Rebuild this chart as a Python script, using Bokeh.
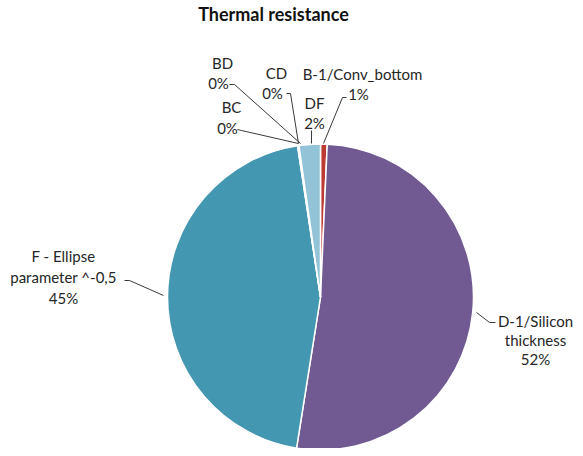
import math
from bokeh.plotting import figure
from bokeh.models import Range1d, ColumnDataSource
from bokeh.core.properties import value
from bokeh.embed import file_html
from bokeh.resources import INLINE

# ---- data (clockwise from 12 o'clock) ----
categories = ["B-1/Conv_bottom", "D-1/Silicon thickness", "F - Ellipse parameter ^-0,5",
              "BC", "BD", "CD", "DF"]
shares = [0.7, 51.8, 45.1, 0.05, 0.05, 0.05, 2.25]
colors = ["#BE3B33", "#715A91", "#4397B0", "#4F81BD", "#9BBB59", "#F79646", "#93C3D6"]
label_lines = [["B-1/Conv_bottom"], ["D-1/Silicon", "thickness"], ["F - Ellipse", "parameter ^-0,5"],
               ["BC"], ["BD"], ["CD"], ["DF"]]
title_text = "Thermal resistance"

W, H = 575, 448
def fx(x):
    return x
def fy(y):
    return H - y

# ---- layout (image pixel coords) ----
CX, CY, R = 320, 296.5, 153
label_pos = [
    [(362, 73), (358, 93)],
    [(535, 320), (535, 339), (535, 358)],
    [(63, 255), (63, 276), (63, 297)],
    [(231, 106), (227, 127)],
    [(222, 62), (218, 82)],
    [(276, 72), (272, 92)],
    [(314, 102), (314, 122)],
]
leaders = [
    [(346, 97), (342, 97), (323, 143)],
    [(476, 312), (489, 322), (495, 322)],
    [(124, 280), (129, 280), (163, 295)],
    [(237, 129), (241, 130), (298, 143)],
    [(229, 84), (234, 84), (300, 143)],
    [(286, 93), (290, 93), (298, 143)],
    [(311, 130), (311, 143)],
]

p = figure(width=W, height=H, output_backend="svg", toolbar_location=None,
           x_range=Range1d(0, W), y_range=Range1d(0, H), min_border=0,
           x_axis_location=None, y_axis_location=None)
p.grid.visible = False
p.outline_line_color = None
p.background_fill_color = "white"
p.border_fill_color = "white"

total = sum(shares)
starts, ends = [], []
cum = 0.0
for v in shares:
    a = cum / total
    cum += v
    b = cum / total
    starts.append(math.pi / 2 - 2 * math.pi * b)
    ends.append(math.pi / 2 - 2 * math.pi * a)

src = ColumnDataSource(dict(x=[fx(CX)] * len(shares), y=[fy(CY)] * len(shares),
                            start=starts, end=ends, color=colors))
p.wedge(x="x", y="y", radius=R, radius_units="screen", start_angle="start", end_angle="end",
        fill_color="color", line_color="white", line_width=1.5, source=src)

# leader lines
for pts in leaders:
    p.line([fx(a) for a, _ in pts], [fy(b) for _, b in pts], line_color="#3a3a3a", line_width=1)

# labels
tx, ty, tt = [], [], []
for lines, pos, v in zip(label_lines, label_pos, shares):
    pct = f"{round(v / total * 100)}%"
    texts = lines + [pct]
    for t, (x, y) in zip(texts, pos):
        tx.append(fx(x)); ty.append(fy(y)); tt.append(t)
p.text(x=tx, y=ty, text=tt, text_align="center", text_baseline="middle",
       text_font=value("Lato"), text_font_size="15px", text_color="#262626")

# title
p.text(x=[fx(273)], y=[fy(13)], text=[title_text], text_align="center", text_baseline="middle",
       text_font=value("Lato"), text_font_style="bold", text_font_size="18px", text_color="#111111")

open("out.html", "w").write(file_html(p, INLINE))
